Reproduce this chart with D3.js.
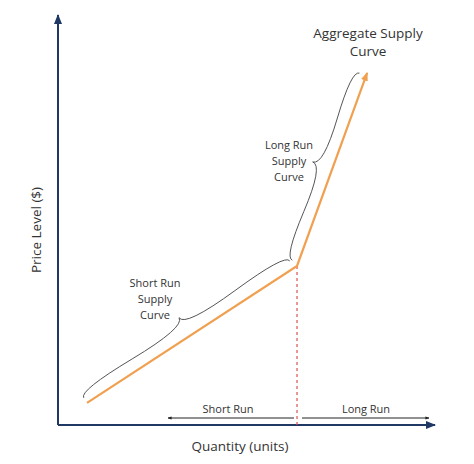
<!DOCTYPE html>
<html><head><meta charset="utf-8">
<script src="https://cdn.jsdelivr.net/npm/d3@7"></script>
<style>body{margin:0;background:#fff}text{font-family:"Open Sans",sans-serif;fill:#333}</style>
</head><body><svg id="c" width="474" height="464"></svg>
<script>
const quantity = [7.7, 63.4, 82.0];
const price = [5.4, 38.8, 85.9];
const shortLabel = ["Short Run", "Supply", "Curve"];
const longLabel = ["Long Run", "Supply", "Curve"];
const titleLines = ["Aggregate Supply", "Curve"];

const svg = d3.select("#c");
const x = d3.scaleLinear().domain([0,100]).range([58,435]);
const y = d3.scaleLinear().domain([0,100]).range([425,15]);
const defs = svg.append("defs");
function marker(id,color,size){
  defs.append("marker").attr("id",id).attr("viewBox","0 0 10 10").attr("refX",9).attr("refY",5)
   .attr("markerWidth",size).attr("markerHeight",size).attr("orient","auto-start-reverse")
   .append("path").attr("d","M0,1 L10,5 L0,9 z").attr("fill",color);
}
marker("ax","#1f3864",5); marker("bk","#222",4); marker("or","#f0a050",4);

svg.append("line").attr("x1",x(0)).attr("y1",y(0)).attr("x2",x(100)).attr("y2",y(0))
  .attr("stroke","#1f3864").attr("stroke-width",2).attr("marker-end","url(#ax)");
svg.append("line").attr("x1",x(0)).attr("y1",y(0)).attr("x2",x(0)).attr("y2",y(100))
  .attr("stroke","#1f3864").attr("stroke-width",2).attr("marker-end","url(#ax)");

svg.append("line").attr("x1",x(quantity[1])).attr("x2",x(quantity[1])).attr("y1",y(price[1])).attr("y2",y(0))
  .attr("stroke","#e05050").attr("stroke-width",1.2).attr("stroke-dasharray","3,3");

const pts = quantity.map((q,i)=>[x(q),y(price[i])]);
svg.append("path").attr("d",d3.line()(pts)).attr("fill","none").attr("stroke","#f0a050")
  .attr("stroke-width",2.2).attr("marker-end","url(#or)");

function brace(x1,y1,x2,y2,w,q){
  let dx=x1-x2, dy=y1-y2, len=Math.hypot(dx,dy); dx/=len; dy/=len;
  const qx1=x1+q*w*dy, qy1=y1-q*w*dx;
  const qx2=(x1-.25*len*dx)+(1-q)*w*dy, qy2=(y1-.25*len*dy)-(1-q)*w*dx;
  const tx=(x1-.5*len*dx)+w*dy, ty=(y1-.5*len*dy)-w*dx;
  const qx3=x2+q*w*dy, qy3=y2-q*w*dx;
  const qx4=(x1-.75*len*dx)+(1-q)*w*dy, qy4=(y1-.75*len*dy)-(1-q)*w*dx;
  return `M${x1},${y1}Q${qx1},${qy1} ${qx2},${qy2}T${tx},${ty}M${x2},${y2}Q${qx3},${qy3} ${qx4},${qy4}T${tx},${ty}`;
}
function off(a,b,d){
  let dx=b[0]-a[0], dy=b[1]-a[1], l=Math.hypot(dx,dy); dx/=l; dy/=l;
  return [[a[0]+dy*d, a[1]-dx*d],[b[0]+dy*d,b[1]-dx*d]];
}
let s = off(pts[1],pts[0],-6);
svg.append("path").attr("d",brace(s[0][0]-4,s[0][1],s[1][0],s[1][1],14,0.6)).attr("fill","none").attr("stroke","#555").attr("stroke-width",1);
let l = off(pts[2],pts[1],-5);
svg.append("path").attr("d",brace(l[0][0]-3,l[0][1]+2,l[1][0],l[1][1]-4,14,0.6)).attr("fill","none").attr("stroke","#555").attr("stroke-width",1);

function lines(arr,cx,cy,fs,lh){
  svg.append("text").attr("text-anchor","middle").attr("font-size",fs)
   .selectAll("tspan").data(arr).join("tspan").attr("x",cx).attr("y",(d,i)=>cy+i*lh).text(d=>d);
}
lines(shortLabel,155,287,11,16);
lines(longLabel,289,149,11,16);
lines(titleLines,368,38,13.5,18);

const ay=418;
svg.append("line").attr("x1",x(quantity[1])-3).attr("x2",168).attr("y1",ay).attr("y2",ay)
  .attr("stroke","#222").attr("stroke-width",1).attr("marker-end","url(#bk)");
svg.append("line").attr("x1",x(quantity[1])+5).attr("x2",429).attr("y1",ay).attr("y2",ay)
  .attr("stroke","#222").attr("stroke-width",1).attr("marker-end","url(#bk)");
svg.append("text").attr("x",228).attr("y",413).attr("text-anchor","middle").attr("font-size",11).text("Short Run");
svg.append("text").attr("x",366).attr("y",413).attr("text-anchor","middle").attr("font-size",11).text("Long Run");

svg.append("text").attr("x",240).attr("y",451).attr("text-anchor","middle").attr("font-size",13.5).text("Quantity (units)");
svg.append("text").attr("transform","translate(41,230) rotate(-90)").attr("text-anchor","middle").attr("font-size",13.5).text("Price Level ($)");
</script></body></html>
